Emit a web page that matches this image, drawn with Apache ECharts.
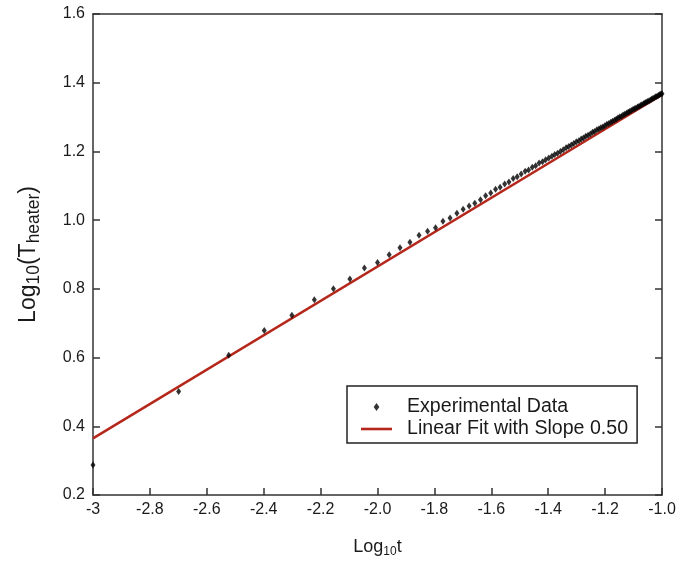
<!DOCTYPE html>
<html>
<head>
<meta charset="utf-8">
<script src="https://cdn.jsdelivr.net/npm/echarts@6/dist/echarts.min.js"></script>
<style>
html,body{margin:0;padding:0;background:#fff;}
#chart{width:690px;height:562px;}
</style>
</head>
<body>
<div id="chart"></div>
<script>
// Experimental data: log10(t) values
const expX = [
-3.000,-2.699,-2.523,-2.398,-2.301,-2.222,-2.155,-2.097,-2.046,-2.000,
-1.959,-1.921,-1.886,-1.854,-1.824,-1.796,-1.770,-1.745,-1.721,-1.699,
-1.678,-1.658,-1.638,-1.620,-1.602,-1.585,-1.569,-1.553,-1.538,-1.523,
-1.509,-1.495,-1.481,-1.469,-1.456,-1.444,-1.432,-1.420,-1.409,-1.398,
-1.387,-1.377,-1.367,-1.357,-1.347,-1.337,-1.328,-1.319,-1.310,-1.301,
-1.292,-1.284,-1.276,-1.268,-1.260,-1.252,-1.244,-1.237,-1.229,-1.222,
-1.215,-1.208,-1.201,-1.194,-1.187,-1.180,-1.174,-1.167,-1.161,-1.155,
-1.149,-1.143,-1.137,-1.131,-1.125,-1.119,-1.114,-1.108,-1.102,-1.097,
-1.092,-1.086,-1.081,-1.076,-1.071,-1.065,-1.060,-1.056,-1.051,-1.046,
-1.041,-1.036,-1.032,-1.027,-1.022,-1.018,-1.013,-1.009,-1.004,-1.000
];
// Experimental data: log10(T_heater) values
const expY = [
0.287,0.501,0.607,0.679,0.723,0.768,0.800,0.829,0.861,0.877,
0.899,0.920,0.936,0.956,0.968,0.978,0.997,1.006,1.020,1.032,
1.041,1.049,1.059,1.071,1.079,1.090,1.096,1.105,1.111,1.121,
1.126,1.134,1.142,1.146,1.154,1.158,1.166,1.170,1.176,1.181,
1.186,1.191,1.195,1.200,1.205,1.211,1.214,1.219,1.223,1.228,
1.231,1.236,1.239,1.244,1.247,1.251,1.256,1.258,1.263,1.265,
1.269,1.271,1.275,1.279,1.281,1.285,1.288,1.291,1.294,1.297,
1.300,1.302,1.306,1.308,1.311,1.314,1.316,1.319,1.322,1.324,
1.326,1.329,1.331,1.334,1.336,1.339,1.341,1.343,1.345,1.347,
1.350,1.352,1.354,1.356,1.359,1.360,1.363,1.365,1.367,1.368
];
// Linear fit (slope 0.50) end points
const fitX = [-3.0, -1.0];
const fitY = [0.365, 1.365];

const xTicks = ['-3','-2.8','-2.6','-2.4','-2.2','-2.0','-1.8','-1.6','-1.4','-1.2','-1.0'];
const yTicks = ['0.2','0.4','0.6','0.8','1.0','1.2','1.4','1.6'];

const seriesNames = ['Experimental Data', 'Linear Fit with Slope 0.50'];

const FONT = '"Liberation Sans", Arial, Helvetica, sans-serif';
const AXIS_COLOR = '#333';
const TEXT_COLOR = '#1a1a1a';
const FIT_COLOR = '#b5271b';

const expData = expX.map((x, i) => [x, expY[i]]);
const fitData = fitX.map((x, i) => [x, fitY[i]]);

const diamond = 'path://M0,-10 L7,0 L0,10 L-7,0 Z';
const lineIcon = 'path://M0,0 L31,0 L31,2.6 L0,2.6 Z';

const chart = echarts.init(document.getElementById('chart'), null, {renderer: 'canvas'});

function xLabel(v) {
  const idx = Math.round((v + 3) / 0.2);
  return xTicks[idx] !== undefined ? xTicks[idx] : '';
}
function yLabel(v) {
  const idx = Math.round((v - 0.2) / 0.2);
  return yTicks[idx] !== undefined ? yTicks[idx] : '';
}

const baseAxisLine = {show: true, lineStyle: {color: AXIS_COLOR, width: 1.5}};

chart.setOption({
  animation: false,
  backgroundColor: '#fff',
  textStyle: {fontFamily: FONT},
  grid: {left: 93, right: 28, top: 14, bottom: 67, containLabel: false, outerBoundsMode: 'none'},
  legend: {
    show: true,
    orient: 'vertical',
    left: 347,
    top: 386,
    data: [
      {name: seriesNames[0], icon: diamond},
      {name: seriesNames[1], icon: lineIcon}
    ],
    itemWidth: 31,
    itemHeight: 8,
    itemGap: 2,
    symbolKeepAspect: true,
    padding: [11, 9, 4, 14],
    borderColor: '#222',
    borderWidth: 1.5,
    borderRadius: 0,
    backgroundColor: '#fff',
    textStyle: {fontFamily: FONT, fontSize: 19.6, color: TEXT_COLOR, lineHeight: 20, padding: [0, 0, 0, 10]}
  },
  xAxis: [{
    type: 'value',
    min: -3, max: -1, interval: 0.2,
    position: 'bottom',
    name: '{a|Log}{s|10}{a|t}',
    nameLocation: 'middle',
    nameGap: 42,
    nameTextStyle: {
      rich: {
        a: {fontFamily: FONT, fontSize: 18, color: TEXT_COLOR, lineHeight: 20},
        s: {fontFamily: FONT, fontSize: 12, color: TEXT_COLOR, lineHeight: 12, padding: [9, 0, 0, 0]}
      }
    },
    axisLine: baseAxisLine,
    axisTick: {show: true, inside: true, length: 7, lineStyle: {color: AXIS_COLOR, width: 1.5}},
    axisLabel: {show: true, formatter: xLabel, fontFamily: FONT, fontSize: 16, color: TEXT_COLOR, margin: 7, showMinLabel: true, showMaxLabel: true},
    splitLine: {show: false}
  }, {
    type: 'value',
    min: -3, max: -1, interval: 0.2,
    position: 'top',
    axisLine: baseAxisLine,
    axisTick: {show: false},
    axisLabel: {show: false},
    splitLine: {show: false}
  }],
  yAxis: [{
    type: 'value',
    min: 0.2, max: 1.6, interval: 0.2,
    position: 'left',
    name: '{a|Log}{s|10}{a|(T}{s|heater}{a|)}',
    nameLocation: 'middle',
    nameGap: 52,
    nameRotate: 90,
    nameTextStyle: {
      rich: {
        a: {fontFamily: FONT, fontSize: 23, color: TEXT_COLOR, lineHeight: 24},
        s: {fontFamily: FONT, fontSize: 17.5, color: TEXT_COLOR, lineHeight: 17, padding: [11, 0, 0, 0]}
      }
    },
    axisLine: baseAxisLine,
    axisTick: {show: true, inside: true, length: 7, lineStyle: {color: AXIS_COLOR, width: 1.5}},
    axisLabel: {show: true, formatter: yLabel, fontFamily: FONT, fontSize: 16, color: TEXT_COLOR, margin: 8, showMinLabel: true, showMaxLabel: true},
    splitLine: {show: false}
  }, {
    type: 'value',
    min: 0.2, max: 1.6, interval: 0.2,
    position: 'right',
    axisLine: baseAxisLine,
    axisTick: {show: true, inside: true, length: 7, lineStyle: {color: AXIS_COLOR, width: 1.5}},
    axisLabel: {show: false},
    splitLine: {show: false}
  }],
  series: [{
    name: seriesNames[1],
    type: 'line',
    data: fitData,
    xAxisIndex: 0, yAxisIndex: 0,
    showSymbol: false,
    symbol: 'none',
    lineStyle: {color: FIT_COLOR, width: 2.5},
    itemStyle: {color: FIT_COLOR},
    z: 2
  }, {
    name: seriesNames[0],
    type: 'scatter',
    data: expData,
    xAxisIndex: 0, yAxisIndex: 0,
    symbol: diamond,
    symbolSize: [5, 7],
    symbolKeepAspect: false,
    itemStyle: {color: '#000'},
    z: 3
  }]
});
</script>
</body>
</html>
